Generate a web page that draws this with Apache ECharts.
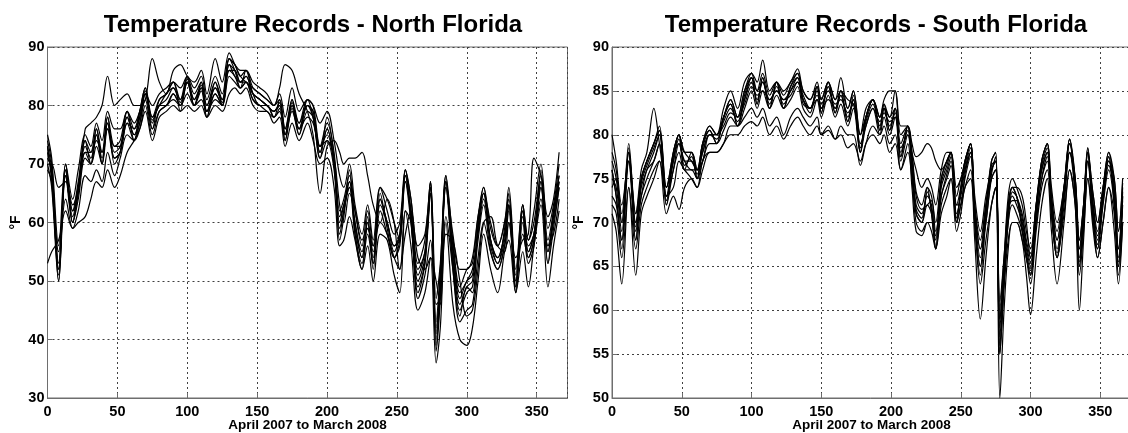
<!DOCTYPE html>
<html>
<head>
<meta charset="utf-8">
<title>Temperature Records</title>
<script src="https://cdn.jsdelivr.net/npm/echarts@6.0.0/dist/echarts.min.js"></script>
<style>
  html, body { margin: 0; padding: 0; background: #fff; }
  #chart { width: 1128px; height: 433px; }
</style>
</head>
<body>
<div id="chart"></div>
<script>
// 日期（第几天），北佛罗里达
var northDays = [0,3,8,13,18,22,27,31,35,39, 43,48,52,57,62,66,70,75,80,85,
  90,95,100,105,110,114,120,125,130,134, 138,142,147,152,157,162,166,170,175,180,
  186,190,195,200,205,209,212,216,220,225, 229,233,238,243,248,252,256,260,265,270,
  274,278,281,285,290,295,300,304,308,312, 317,322,327,330,335,340,344,348,353,358,
  362,366];

// 北佛罗里达 各站温度 (°F)
var northA = [72,68,51,69,61,66,73,71,75,71, 77,72,73,78,75,78,82.5,77.5,80,81,
  83,80.5,84.5,81,83.5,79,83,80.5,87,86, 84,85,82,81,80,79,80.5,75,80.5,76,
  80,79,72,76,70,60,63,67,60,54, 60,54,64,60,56,58,68,62,51,55,
  66,41,50,67,55,47,50,51,59,65, 57,54,58,63,49,62,55,58,67,55, 61,67];
var northB = [74,70,53,70,62,67,74,72,76,72, 78,73,74,79,76,79,83,78,81,82,
  84,81,85,82,84,80,84,81,88,87, 85,86,83,82,81,80,81,76,81,77,
  81,80,73,77,72,62,64,68,62,56, 62,56,66,62,58,60,69,64,53,57,
  67,43,52,68,57,49,52,53,61,66, 59,56,60,64,51,63,57,60,68,57, 62,68];
var northC = [70,66,50,68,60,64,71,70,73,70, 76,71,72,77,74,77,81,76,79,80,
  82,80,84,80,82.5,78,82,80,86,85, 83,84,81,80,79,78,79.5,74,79.5,75,
  79,78,71,74,69,58,62,66,58,53, 58,53,62,58,54,56,67,60,49,53,
  65,39,48,66,53,45,48,49,57,63, 55,52,56,62,48,60,53,56,66,53, 59,66];
var northD = [73,69,50,70,60,65,74,70,76,70, 78,70,72,79,74,79,83,76,81,82,
  84,79,85,80,84,78,84,80,88,86, 83,86,82,80,80,78,81,74,81,75,
  81,78,71,78,71,57,61,69,58,52, 61,52,65,59,54,57,69,61,48,53,
  67,38,47,68,52,44,49,48,60,66, 56,53,59,65,48,63,54,57,69,53, 62,68];
var northE = [69,67,55,64,59,62,68,67,69,67, 72,68,71,75,74,76,80,75,79,80,
  81,80,82,80,81,79,81,80,85,84, 83,84,81,80,80,78,79,75,79,76,
  78,77,73,74,71,63,60,65,62,57, 59,56,60,58,54,52,62,60,47,51,
  57,46,47,61,52,43,45,46,54,60, 55,52,56,60,50,58,54,57,64,56, 58,64];
var northF = [75,71,56,70,64,69,75,73,77,74, 79,76,76,79,77,79,82,80,82,83,
  84,83,85,83,85,81,85,82,88,87, 86,86,84,83,82,80,82,78,83,79,
  81,80,77,79,74,68,66,70,63,58, 63,57,66,64,60,57,69,64,56,58,
  67,47,53,67,58,52,52,54,61,65, 60,56,60,66,52,63,57,62,70,59, 63,70];
var northG = [70,70,66,67,63,66,76,77,78,80, 85,80,81,82,80,80,81,88,84,82,
  86,87,85,84,86,82,88,84,89,87, 85,84,83,82,81,80,83,87,86,82,
  79,75,65,73,74,72,70,71,71,72, 68,63,60,64,60,52,58,62,54,52,
  54,50,46,58,57,50,44,45,52,60, 61,56,55,60,54,57,58,71,68,61, 64,72];
var northH = [53,55,57,62,59,60,61,64,67,66, 69,66,68,72,74,76,79,74,78,79,
  80,79,80,79,80,78,80,79,82,83, 82,83,80,79,79,77,78,73,77,74,
  77,74,70,71,66,56,57,61,57,52, 56,50,58,57,51,48,62,56,45,48,
  54,36,42,60,46,40,39,42,50,58, 52,48,55,57,48,55,49,56,63,49, 56,62];
var northI = [71,69,52,68,62,65,72,72,74,72, 76,73,73,77,76,78,82,78,80,82,
  83,81,84,81,83,80,83,81,86,86, 84,85,82,81,80,79,80,76,80,77,
  80,79,73,75,70,61,63,66,60,55, 59,55,63,60,56,57,67,62,52,55,
  65,42,50,66,56,48,50,52,58,64, 57,54,58,63,50,61,56,58,66,56, 61,67];
var northJ = [73,67,52,69,60,66,72,70,75,70, 77,71,72,78,75,77,82,77,80,80,
  82,80,84,80,83,79,82,80,87,85, 84,84,82,81,80,79,80,75,80,76,
  80,78,72,76,70,59,62,67,59,54, 60,53,64,60,55,58,68,61,50,54,
  66,40,49,67,54,46,49,50,59,65, 57,53,57,63,49,62,55,58,67,55, 60,66];

// 南佛罗里达
var southDays = [0,3,7,12,17,21,25,30,34,39, 44,48,52,57,61,65,70,75,80,85,
  90,95,100,104,108,113,118,123,128,133, 137,142,147,150,155,160,164,169,173,178,
  182,187,192,195,199,203,207,212,215,218, 222,226,229,232,236,240,243,247,250,253,
  257,260,264,268,272,275,278,281,284,287, 290,294,297,300,304,308,312,315,319,324,
  328,332,335,338,341,345,348,352,356,360, 363,366];

var southA = [75,74,69,78,69,74,76,78,80,72.5, 77,79.5,77,77,75.5,78,80,79.5,81.5,83,
  81.5,84,86,84,86,83.5,85.5,83.5,85,86.5, 84,83,85,83,85.5,83,84.5,82,84,78.5,
  81.5,83.5,81,83,81,82.5,78,80.5,77,72, 71,73,72,68,74,76,77.5,71,73,76,
  78.5,71,66,71,76,77,57,64,71,73, 72,70,67,65,71,76,78,72,67,73,
  79,74,66,71,78,71,68,73,77,73, 66,73];
var southB = [77,75,70,79,70,75,77,79,81,74, 78,80,78,78,76,79,81,80,82,84,
  82,85,87,85,87,84.5,86,84.5,86,87, 85,84,85.5,84,86,84,85,83,85,80,
  82,84,82,83.5,82,83,79,81,78,73.5, 72,74,73,70,75,77,78,72,74,77,
  79,72,67,72,77,78,59,65,72,74, 73,71,68,66,72,77,79,73,68,74,
  79.5,75,67,72,78.5,72,69,74,78,74, 67,74];
var southC = [73,72,68,77,68,73,75,77,79,72, 76,78,76,76,75,77,79,79,80.5,82,
  81,83,85,83,85,83,84.5,83,84,85.5, 83,82,84,82,84.5,82,83.5,81,83,78,
  81,83,80,82,80,82,77,80,76,71, 70,72,71,67,73,75,76.5,70,72,75,
  77.5,70,65,70,75,76,55,63,70,72, 71,69,66,64,70,75,77,71,66,72,
  78,73,65,70,77,70,67,72,76,72, 65,72];
var southD = [76,73,67,78.5,68,75,77,79,80.5,72, 78,80,76,78,75,79,80.5,79,82,83.5,
  81,84.5,86.5,83.5,86.5,83,86,83,85.5,87, 84,82.5,85.5,82.5,86,82.5,85,81.5,84.5,78,
  82,84,80.5,83.5,80.5,83,77.5,81,76,71, 70,74,71,67,75,77,78,70,74,77,
  79,70,64,71,77,78,55,63,71,74, 73,69,66,64,71,77,79,71,66,74,
  79.5,74,65,71,78.5,70,67,73,77.5,72, 65,73];
var southE = [72,71,66,74,67,72,74,76,77,73, 74,77,76,75,74,77,78,78,79,80,
  80,81,81.5,81,82,80,81,79.5,81,82, 81,80,81,80,80.5,79.5,80,78.5,79,77,
  79,80,79,80,78,79,76,78,75,70, 69,70,70,67,72,74,75,70,72,74,
  76,70,63,68,72,74,59,63,68,70, 70,68,66,63,69,74,76,71,66,71,
  76,72,64,69,75,70,66,70,74,71, 64,70];
var southF = [78,76,71,78,71,76,78,83,79,74, 78,80,78,78,76,79,81,80,83,85,
  83,86,87,86,88.5,85,86,85,86,87.5, 85,84,86,84,86,84,86.5,83,85,80,
  83,84,82,84,85,85,80,81,78,76, 74,75,74,72,76,78,78,74,75,77,
  79,73,69,73,76,77,60,66,73,75, 74,72,69,67,72,77,79,74,70,74,
  79,75,68,72,78,73,70,74,78,75, 69,75];
var southG = [71,69,63,74,64,71,73,75,77,71, 73,71.5,74,75,74,76,78,78,79,81,
  81,82,83,82,83,81,82,80,82,83, 82,81,82,80,81,79.5,81,80,80,76.5,
  79,81,80,81,79,80,76,79,74,69, 68.5,70,69,67,71,73,75,69,71,74,
  75,68,59,66,72,74,50,60,67,70, 70,68,64,59.5,66,72,75,69,63,70,
  76,72,60,68,75,69,66,70,74,69, 63,70];
var southH = [80,77,72,77,71,75,77,79,80.5,74, 77,80,78,77,76,78,80,80,82,84,
  82,85,86.5,85,86,84,85,84,85,86, 84,83,84,83,84,83,85,84,83.5,80,
  82,84,82,83,82,85,81,81,79,77.5, 78,79,78.5,77,76,77,78,73,75,76,
  78,72,68,72,75,76,61,66,72,74, 74,73,70,66,72,76,78,73,69,74,
  78,75,68,72,77,73,70,74,77,75, 69,74.5];
var southI = [74,75,70,77,70,73,76,77,79,73, 76,79,77,76,76,77,80,80,81,82.5,
  82,83.5,85.5,84.5,85,84,85,84,84.5,86, 84.5,83,84.5,83.5,85,83.5,84,82.5,83.5,79,
  81,83,81.5,82.5,81.5,82,78.5,80,77.5,73, 71.5,72,72.5,69,73,75.5,77,72,72,75.5,
  78,71.5,67,70,75.5,77.5,58,64.5,70,73.5, 73,70.5,67.5,65.5,70,75,77.5,72.5,68,73,
  78,74.5,67,70.5,77,71.5,68.5,72.5,76.5,73.5, 67,72.5];
var southJ = [76,73,68,78,69.5,74.5,76.5,78.5,80,73, 77.5,79,76.5,77.5,75,78.5,80.5,79,82,83.5,
  81,84,86.5,83.5,86.5,83,86,83,85.5,86.5, 83.5,83,85.5,82.5,85.5,82.5,84.5,81.5,84,78,
  82,84,80.5,83,80.5,83,77.5,81,76.5,71.5, 70.5,73.5,71.5,68.5,74.5,76.5,78,70.5,73.5,76.5,
  79,70.5,65,71.5,76.5,77,56,63.5,71.5,72.5, 72.5,69.5,66.5,64.5,71.5,76.5,78.5,71.5,66.5,73.5,
  79.5,73.5,65.5,71.5,78,70.5,67.5,73.5,77.5,72.5, 65.5,73.5];

var northStations = [northA, northB, northC, northD, northE, northF, northG, northH, northI, northJ];
var southStations = [southA, southB, southC, southD, southE, southF, southG, southH, southI, southJ];

var boldFont = 'Arial, "Liberation Sans", sans-serif';

// 把天数和温度组合成 [x, y]
function toPairs(days, vals) {
  var out = [];
  for (var i = 0; i < days.length; i++) {
    out.push([days[i], vals[i]]);
  }
  return out;
}

function makeXAxis(idx) {
  return {
    type: 'value', gridIndex: idx, min: 0, max: 372, interval: 50,
    name: 'April 2007 to March 2008', nameLocation: 'middle', nameGap: 20, nameMoveOverlap: false,
    nameTextStyle: { fontFamily: boldFont, fontWeight: 'bold', fontSize: 13.5, color: '#000' },
    axisLine: { show: true, onZero: false, lineStyle: { color: '#6e6e6e', width: 1 } },
    axisTick: { show: true, inside: true, length: 5, lineStyle: { color: '#6e6e6e' } },
    axisLabel: {
      fontFamily: boldFont, fontWeight: 'bold', fontSize: 14.5, color: '#000', margin: 6,
      showMaxLabel: false,
      formatter: function (v) { return v <= 350 ? String(v) : ''; }
    },
    splitLine: { show: true, lineStyle: { color: '#404040', type: [2, 3], width: 1 } }
  };
}

function makeYAxis(idx, min, max, step) {
  return {
    type: 'value', gridIndex: idx, min: min, max: max, interval: step,
    name: '°F', nameLocation: 'middle', nameGap: idx === 0 ? 24 : 26, nameRotate: 90,
    nameTextStyle: { fontFamily: boldFont, fontWeight: 'bold', fontSize: 14, color: '#000' },
    axisLine: { show: true, lineStyle: { color: '#6e6e6e', width: 1 } },
    axisTick: { show: true, inside: true, length: 5, lineStyle: { color: '#6e6e6e' } },
    axisLabel: { fontFamily: boldFont, fontWeight: 'bold', fontSize: 14.5, color: '#000', margin: 3 },
    splitLine: { show: true, lineStyle: { color: '#404040', type: [2, 3], width: 1 } }
  };
}

var series = [];
northStations.forEach(function (vals) {
  series.push({
    type: 'line', xAxisIndex: 0, yAxisIndex: 0, smooth: 0.35, symbol: 'none',
    lineStyle: { color: '#000', width: 1.2 }, data: toPairs(northDays, vals)
  });
});
southStations.forEach(function (vals) {
  series.push({
    type: 'line', xAxisIndex: 1, yAxisIndex: 1, smooth: 0.35, symbol: 'none',
    lineStyle: { color: '#000', width: 1.2 }, data: toPairs(southDays, vals)
  });
});

var chart = echarts.init(document.getElementById('chart'), null, { renderer: 'canvas' });
chart.setOption({
  animation: false,
  backgroundColor: '#fff',
  title: [
    { text: 'Temperature Records - North Florida', left: 308, top: 8, textAlign: 'center',
      textStyle: { fontFamily: boldFont, fontWeight: 'bold', fontSize: 24, color: '#000' } },
    { text: 'Temperature Records - South Florida', left: 871, top: 8, textAlign: 'center',
      textStyle: { fontFamily: boldFont, fontWeight: 'bold', fontSize: 24, color: '#000' } }
  ],
  grid: [
    { left: 47.5, top: 47, width: 520, height: 351, show: true, borderColor: '#6e6e6e', borderWidth: 1,
      outerBoundsMode: 'none', containLabel: false },
    { left: 612, top: 47, width: 519, height: 351, show: true, borderColor: '#6e6e6e', borderWidth: 1,
      outerBoundsMode: 'none', containLabel: false }
  ],
  xAxis: [makeXAxis(0), makeXAxis(1)],
  yAxis: [makeYAxis(0, 30, 90, 10), makeYAxis(1, 50, 90, 5)],
  series: series
});
</script>
</body>
</html>
